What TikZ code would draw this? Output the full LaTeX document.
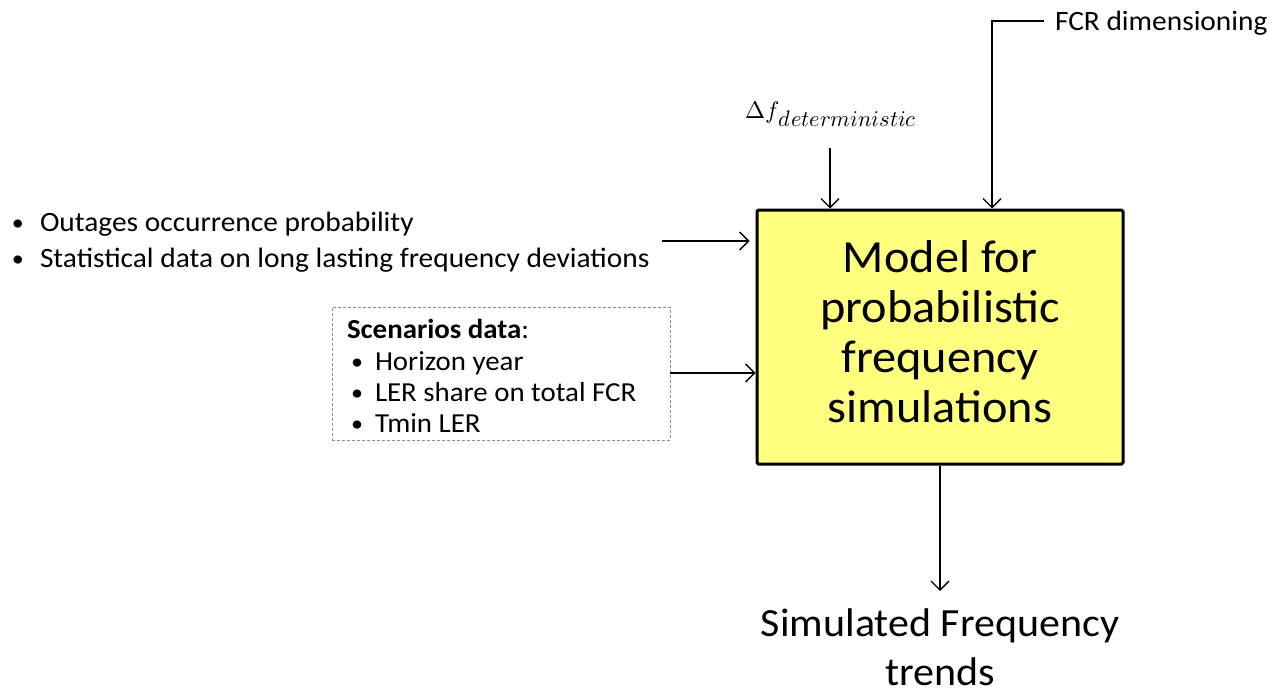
\documentclass[tikz,border=0pt]{standalone}
\usepackage{fontspec}
\usepackage{unicode-math}
\setmainfont{Carlito}[FakeStretch=1.05]
\setmathfont{Latin Modern Math}
\usetikzlibrary{arrows.meta}
\definecolor{boxyellow}{HTML}{FFFF80}
\tikzset{
  flow/.style={draw=black, line width=1.3pt, -{Straight Barb[length=9pt,width=18pt,line width=1.3pt]}},
  modelbox/.style={draw=black, line width=3pt, fill=boxyellow, rounded corners=1.5pt},
  databox/.style={draw=black!45, line width=0.9pt, dash pattern=on 3pt off 2pt},
  txt/.style={inner sep=0pt, outer sep=0pt, anchor=base west},
  ctxt/.style={inner sep=0pt, outer sep=0pt, anchor=base},
  inputfont/.style={font=\fontsize{28}{34}\selectfont},
  scenfont/.style={font=\fontsize{27.5}{31}\selectfont},
  bulletfont/.style={font=\fontsize{23}{31}\selectfont},
  modelfont/.style={font=\fontsize{46}{50}\selectfont},
  outfont/.style={font=\fontsize{40}{50}\selectfont},
}
\begin{document}
\begin{tikzpicture}[x=1pt, y=-1pt]
\useasboundingbox (0,0) rectangle (1273,694);

% central model block
\node (model) [modelbox, minimum width=366pt, minimum height=254pt, inner sep=0pt] at (940,337) {};
\node[ctxt, modelfont] (m1) at (940,272) {Model for};
\node[ctxt, modelfont] (m2) at (940,322) {probabilistic};
\node[ctxt, modelfont] (m3) at (940,372) {frequency};
\node[ctxt, modelfont] (m4) at (940,422) {simulations};

% top inputs
\node[txt] (delta) at (745,118)
  {\fontsize{24}{26}\selectfont$\Delta f$\raisebox{-8pt}{\fontsize{22.5}{24}\selectfont$deterministic$}};
\coordinate (deltaout) at (830,148);
\node[txt, inputfont] (fcr) at (1055,30) {FCR dimensioning};
\coordinate (fcrout) at (1044,21);

% left inputs
\node[txt, bulletfont] (b1) at (12,230.5) {•};
\node[txt, inputfont] (o1) at (40,231.5) {Outages occurrence probability};
\node[txt, bulletfont] (b2) at (12,266.5) {•};
\node[txt, inputfont] (o2) at (40,267.5) {Statistical data on long lasting frequency deviations};
\coordinate (outout) at (662,241);

\node (scen) [databox, minimum width=338pt, minimum height=133pt, inner sep=0pt] at (501,373.5) {};
\node[txt, scenfont] (s0) at (347,338) {\textbf{Scenarios data}:};
\node[txt, bulletfont] (sb1) at (351,369) {•};
\node[txt, scenfont] (s1) at (375,370) {Horizon year};
\node[txt, bulletfont] (sb2) at (351,400) {•};
\node[txt, scenfont] (s2) at (375,401) {LER share on total FCR};
\node[txt, bulletfont] (sb3) at (351,431) {•};
\node[txt, scenfont] (s3) at (375,432) {Tmin LER};

% output
\node[ctxt, outfont] (sim1) at (940,636) {Simulated Frequency};
\node[ctxt, outfont] (sim2) at (940,685) {trends};
\coordinate (simin) at (940,591);

% connectors
\draw[flow] (deltaout) -- (deltaout |- model.north);
\draw[flow] (fcrout) -| (992,0 |- model.north);
\draw[flow] (outout) -- ([xshift=-6pt]model.west |- outout);
\draw[flow] (scen.east |- 0,373) -- (model.west |- 0,373);
\draw[flow] (model.south -| simin) -- (simin);
\end{tikzpicture}
\end{document}
